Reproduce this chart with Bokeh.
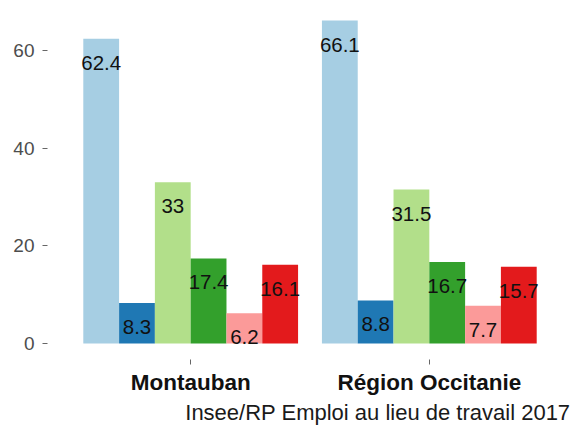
from bokeh.plotting import figure
from bokeh.models import Range1d, FixedTicker, ColumnDataSource, LabelSet, Title
from bokeh.core.properties import value
from bokeh.embed import file_html
from bokeh.resources import INLINE

groups = ["Montauban", "Région Occitanie"]
series_colors = ["#a6cee3", "#1f78b4", "#b2df8a", "#33a02c", "#fb9a99", "#e31a1c"]
montauban = [62.4, 8.3, 33, 17.4, 6.2, 16.1]
occitanie = [66.1, 8.8, 31.5, 16.7, 7.7, 15.7]
y_ticks = [0, 20, 40, 60]
caption = "Insee/RP Emploi au lieu de travail 2017"

values_by_group = [montauban, occitanie]
n = len(series_colors)
bar_w = 0.9 / n

xs, tops, cols, labels = [], [], [], []
for gi, vals in enumerate(values_by_group):
    for si, v in enumerate(vals):
        xs.append(gi + 1 - 0.45 + bar_w * (si + 0.5))
        tops.append(v)
        cols.append(series_colors[si])
        labels.append(("%g" % v))

src = ColumnDataSource(dict(x=xs, top=tops, color=cols, label=labels))

p = figure(width=572, height=425, output_backend="svg", toolbar_location=None,
           x_range=Range1d(0.4, 2.6), y_range=Range1d(-3.28, 69.4),
           min_border_left=47, min_border_right=0, min_border_top=4, min_border_bottom=66)
p.outline_line_color = None
p.xgrid.visible = False
p.ygrid.visible = False
p.background_fill_color = "white"
p.border_fill_color = "white"

p.vbar(x="x", top="top", bottom=0, width=bar_w, color="color", line_color=None, source=src)

lbl = LabelSet(x="x", y="top", text="label", source=src, text_align="center",
               text_baseline="middle", y_offset=-24, text_font=value("Liberation Sans"),
               text_font_size=value("20.5px"), text_color="#111111")
p.add_layout(lbl)

p.xaxis.ticker = FixedTicker(ticks=[1, 2])
p.xaxis.major_label_overrides = {1: groups[0], 2: groups[1]}
p.xaxis.axis_line_color = None
p.xaxis.major_tick_in = 0
p.xaxis.major_tick_out = 5
p.xaxis.major_tick_line_color = "#666666"
p.xaxis.minor_tick_line_color = None
p.xaxis.major_label_text_font = "Liberation Sans"
p.xaxis.major_label_text_font_style = "bold"
p.xaxis.major_label_text_font_size = "22.5px"
p.xaxis.major_label_text_color = "#111111"
p.xaxis.major_label_standoff = 5

p.yaxis.ticker = FixedTicker(ticks=y_ticks)
p.yaxis.axis_line_color = None
p.yaxis.major_tick_in = 0
p.yaxis.major_tick_out = 5
p.yaxis.major_tick_line_color = "#666666"
p.yaxis.minor_tick_line_color = None
p.yaxis.major_label_text_font = "Liberation Sans"
p.yaxis.major_label_text_font_size = "19px"
p.yaxis.major_label_text_color = "#4d4d4d"
p.yaxis.major_label_standoff = 8

t = Title(text=caption, align="right", offset=2, text_font="Liberation Sans",
          text_font_size="22px", text_font_style="normal", text_color="#1a1a1a",
          standoff=0, vertical_align="bottom", text_line_height=0.8)
p.add_layout(t, "below")

open("out.html", "w").write(file_html(p, INLINE))
